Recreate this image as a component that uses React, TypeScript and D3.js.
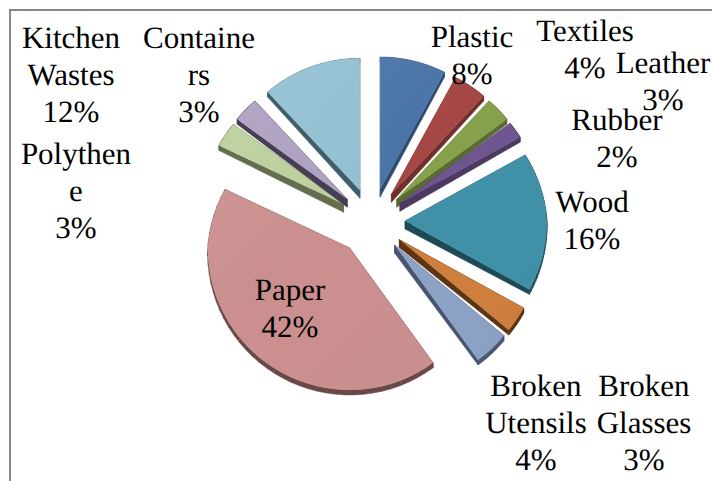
import * as d3 from "d3";

const categories = ["Plastic", "Textiles", "Leather", "Rubber", "Wood", "Broken Glasses", "Broken Utensils", "Paper", "Polythene", "Containers", "Kitchen Wastes"];
const shares = [8, 4, 3, 2, 16, 3, 4, 42, 3, 3, 12];
const faceColors = ["#4a74a8", "#a54745", "#87a04c", "#6f5590", "#3f90a8", "#cf7f3c", "#8ca2c6", "#ca8f8e", "#bbcf9b", "#ad9fc0", "#92c0d2"];
const sideColors = ["#2f4b6e", "#6e2f2d", "#5a6b32", "#4a3960", "#1e4a56", "#5c3514", "#475570", "#6a4747", "#646e4f", "#463e52", "#3f5e6a"];
const explodes = [33, 33, 33, 33, 33, 33, 33, 35, 33, 33, 33];

// label lines are wrapped the way the chart wraps them
const labelLines = [
  ["Plastic", "8%"],
  ["Textiles", "4%"],
  ["Leather", "3%"],
  ["Rubber", "2%"],
  ["Wood", "16%"],
  ["Broken", "Glasses", "3%"],
  ["Broken", "Utensils", "4%"],
  ["Paper", "42%"],
  ["Polythen", "e", "3%"],
  ["Containe", "rs", "3%"],
  ["Kitchen", "Wastes", "12%"],
];
const labelX = [472, 585, 663, 617, 592, 644, 536, 290, 76, 199, 71];
const labelY = [47, 41, 73, 130, 212, 396, 396, 300, 164, 48, 48];
const labelGap = 37;

const width = 712;
const height = 481;
const cx = 372;
const cy = 221;
const radius = 142;
const farShrink = 10;

// side wall is taller near the middle of the pie than at the rim
const depth = d3.scaleLinear().domain([0, 1]).range([8, 5]);

const pie = d3.pie<number>().sort(null).startAngle(0).endAngle(2 * Math.PI);
const line = d3.line();

type Pt = { x: number; y: number; d: number };

function outline(a0: number, a1: number, explode: number): Pt[] {
  const mid = (a0 + a1) / 2;
  const ax = cx + explode * Math.sin(mid);
  const ay = cy - explode * Math.cos(mid);
  const angles = d3.range(0, 41).map((i) => a0 + ((a1 - a0) * i) / 40);
  const rim = angles.map((a) => {
    // far side of the pie comes out a bit smaller
    const r = radius - farShrink * Math.max(0, Math.cos(a));
    return { x: ax + r * Math.sin(a), y: ay - r * Math.cos(a), d: depth(1) };
  });
  return [{ x: ax, y: ay, d: depth(0) }, ...rim];
}

function App() {
  const slices = pie(shares);

  return (
    <svg width={width} height={height} style={{ position: "absolute", left: 0, top: 0, background: "#ffffff" }}>
      <defs>
        <linearGradient id="sheen" gradientUnits="userSpaceOnUse" x1={200} y1={60} x2={540} y2={390}>
          <stop offset="0%" stopColor="#ffffff" stopOpacity={0.1} />
          <stop offset="45%" stopColor="#ffffff" stopOpacity={0} />
          <stop offset="100%" stopColor="#000000" stopOpacity={0.02} />
        </linearGradient>
      </defs>

      <path d={`M10,${height}V10H${width}`} fill="none" stroke="#868686" strokeWidth={2} />

      {slices.map((s, i) => {
        const pts = outline(s.startAngle, s.endAngle, explodes[i]);
        const closed = [...pts, pts[0]];
        const face = line(pts.map((p) => [p.x, p.y] as [number, number])) + "Z";
        return (
          <g key={categories[i]}>
            {d3.pairs(closed).map(([p, q], j) => (
              <path
                key={j}
                d={`M${p.x},${p.y}L${q.x},${q.y}L${q.x},${q.y + q.d}L${p.x},${p.y + p.d}Z`}
                fill={sideColors[i]}
                stroke={sideColors[i]}
                strokeWidth={0.5}
              />
            ))}
            <path d={face} fill={faceColors[i]} />
            <path d={face} fill="url(#sheen)" />
          </g>
        );
      })}

      <g fontFamily="'Liberation Serif', serif" fontSize={31} fill="#000000" textAnchor="middle" textRendering="geometricPrecision">
        {labelLines.map((lines, i) => (
          <text key={categories[i]} x={labelX[i]} y={labelY[i]}>
            {lines.map((t, j) => (
              <tspan key={j} x={labelX[i]} y={labelY[i] + j * labelGap}>{t}</tspan>
            ))}
          </text>
        ))}
      </g>
    </svg>
  );
}

export default App;
